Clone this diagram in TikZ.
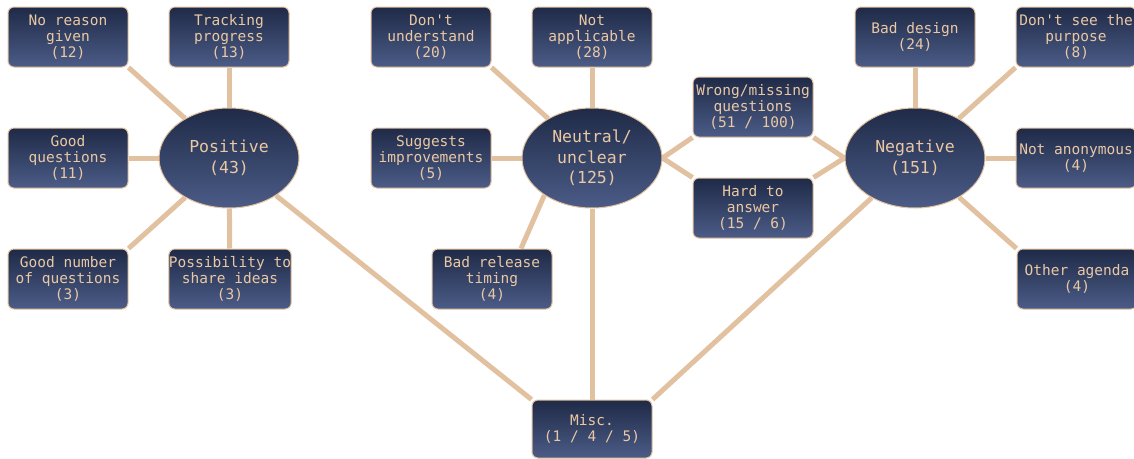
\documentclass[tikz,border=0pt]{standalone}
\usepackage{fontspec}
\setmonofont{DejaVu Sans Mono}
\usetikzlibrary{backgrounds,calc,shapes.geometric}
\definecolor{linkc}{HTML}{E2C1A0}
\definecolor{txtc}{HTML}{EAC8A4}
\definecolor{topc}{HTML}{1F2A47}
\definecolor{botc}{HTML}{4B5C87}
\tikzset{
  box/.style={draw=linkc, line width=1pt, rounded corners=6pt, top color=topc, bottom color=botc,
    minimum width=120pt, minimum height=60pt, inner sep=0pt, align=center, text=txtc,
    font=\ttfamily\fontsize{14.5}{16}\selectfont},
  hub/.style={draw=linkc, line width=1pt, ellipse, top color=topc, bottom color=botc,
    minimum width=140pt, minimum height=100pt, inner sep=0pt, align=center, text=txtc,
    font=\ttfamily\fontsize{16.5}{20.5}\selectfont},
  link/.style={draw=linkc, line width=5pt}
}
\begin{document}
\begin{tikzpicture}[x=1pt,y=-1pt]
\useasboundingbox (0,0) rectangle (1134,458);
% hubs
\node[hub] (pos) at (229,158) {Positive\\(43)};
\node[hub] (neu) at (592,158) {Neutral/\\unclear\\(125)};
\node[hub] (neg) at (915,158) {Negative\\(151)};
% positive leaves
\node[box] (nr) at (68,37) {No reason\\given\\(12)};
\node[box] (tp) at (229,37) {Tracking\\progress\\(13)};
\node[box] (gq) at (68,158) {Good\\questions\\(11)};
\node[box] (gn) at (68,279) {Good number\\of questions\\(3)};
\node[box] (ps) at (230,279) {Possibility to\\share ideas\\(3)};
% neutral leaves
\node[box] (du) at (431,37) {Don't\\understand\\(20)};
\node[box] (na) at (592,37) {Not\\applicable\\(28)};
\node[box] (si) at (431,158) {Suggests\\improvements\\(5)};
\node[box] (brt) at (492,279) {Bad release\\timing\\(4)};
\node[box] (wm) at (753,107) {Wrong/missing\\questions\\(51 / 100)};
\node[box] (ha) at (753,208) {Hard to\\answer\\(15 / 6)};
% negative leaves
\node[box] (bd) at (915,37) {Bad design\\(24)};
\node[box] (dsp) at (1076,37) {Don't see the\\purpose\\(8)};
\node[box] (nan) at (1076,158) {Not anonymous\\(4)};
\node[box] (oa) at (1077,279) {Other agenda\\(4)};
% misc
\node[box, minimum height=58pt] (misc) at (592,429) {Misc.\\(1 / 4 / 5)};
\begin{pgfonlayer}{background}
\draw[link] (nr.south east) -- (pos);
\draw[link] (tp) -- (pos);
\draw[link] (gq) -- (pos);
\draw[link] (gn.north east) -- (pos);
\draw[link] (ps) -- (pos);
\draw[link] (pos) -- (misc.north west);
\draw[link] (du.south east) -- (neu);
\draw[link] (na) -- (neu);
\draw[link] (si) -- (neu);
\draw[link] ([xshift=29pt]brt.north) -- (neu.218);
\draw[link] (neu) -- (misc);
\draw[link] (neu.east) -- (wm.south west);
\draw[link] (neu.east) -- (ha.north west);
\draw[link] (neg.west) -- (wm.south east);
\draw[link] (neg.west) -- (ha.north east);
\draw[link] (bd) -- (neg);
\draw[link] (dsp.south west) -- (neg);
\draw[link] (nan) -- (neg);
\draw[link] (oa.north west) -- (neg);
\draw[link] (neg) -- (misc.north east);
\end{pgfonlayer}
\end{tikzpicture}
\end{document}
